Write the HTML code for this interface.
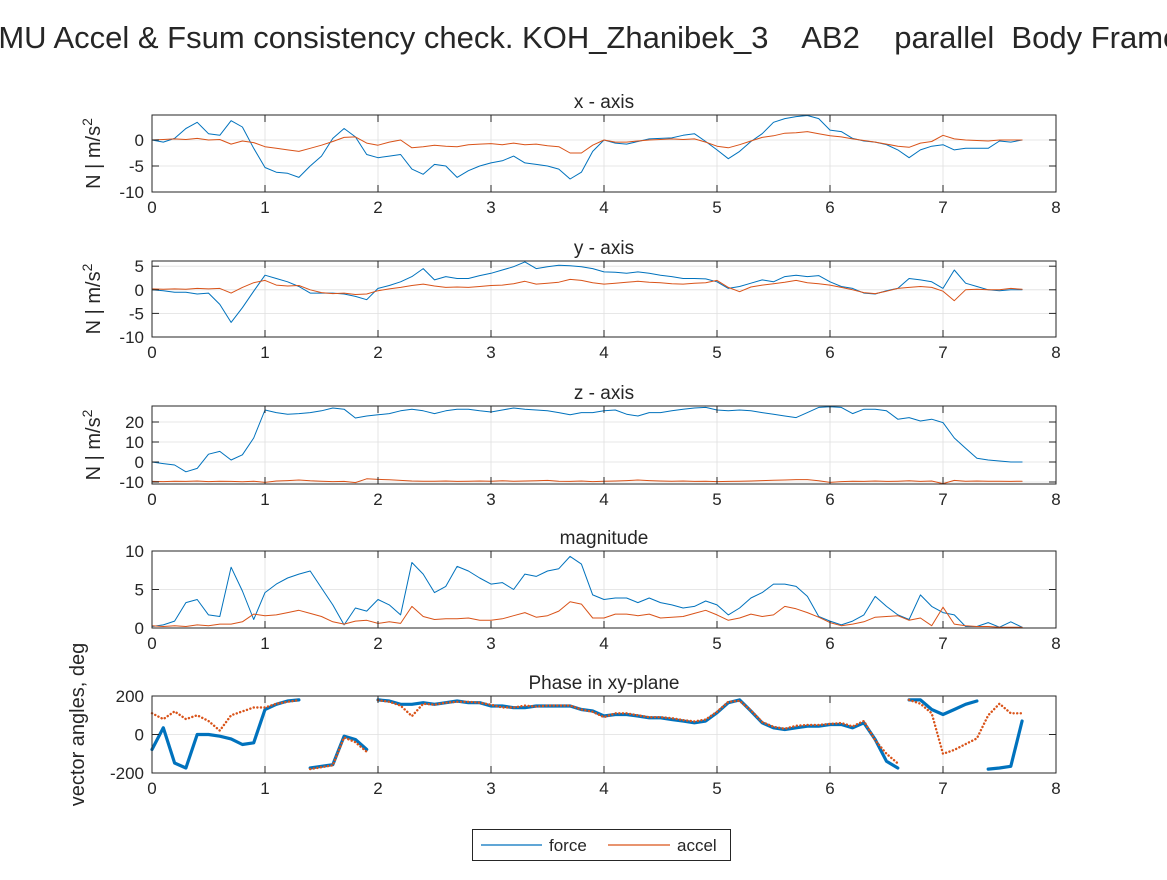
<!DOCTYPE html>
<html><head><meta charset="utf-8"><style>
html,body{margin:0;padding:0;background:#fff;overflow:hidden}
svg text{font-family:"Liberation Sans",Arial,sans-serif;fill:#262626}
</style></head><body>
<svg id="fig" width="1167" height="875" viewBox="0 0 1167 875" xmlns="http://www.w3.org/2000/svg">
<rect width="1167" height="875" fill="#fff"/>
<text x="585" y="48" font-size="31" text-anchor="middle" style="white-space:pre">IMU Accel &amp; Fsum consistency check. KOH_Zhanibek_3    AB2    parallel  Body Frame</text>
<g id="plots"></g>
<g>
<rect x="472.5" y="829.5" width="258" height="31" fill="#fff" stroke="#262626" stroke-width="1"/>
<line x1="481" y1="845" x2="542" y2="845" stroke="#0072BD" stroke-width="1.2"/>
<text x="549" y="851" font-size="17">force</text>
<line x1="608" y1="845" x2="670" y2="845" stroke="#D95319" stroke-width="1.2"/>
<text x="677" y="851" font-size="17">accel</text>
</g>
</svg>
<script>
const times = [0,0.1,0.2,0.3,0.4,0.5,0.6,0.7,0.8,0.9,1.0,1.1,1.2,1.3,1.4,1.5,1.6,1.7,1.8,1.9,2.0,2.1,2.2,2.3,2.4,2.5,2.6,2.7,2.8,2.9,3.0,3.1,3.2,3.3,3.4,3.5,3.6,3.7,3.8,3.9,4.0,4.1,4.2,4.3,4.4,4.5,4.6,4.7,4.8,4.9,5.0,5.1,5.2,5.3,5.4,5.5,5.6,5.7,5.8,5.9,6.0,6.1,6.2,6.3,6.4,6.5,6.6,6.7,6.8,6.9,7.0,7.1,7.2,7.3,7.4,7.5,7.6,7.7];
const xForce = [0,-0.4,0.3,2.2,3.4,1.2,0.9,3.7,2.5,-1.6,-5.3,-6.2,-6.4,-7.2,-5,-3.1,0.3,2.2,0.6,-2.8,-3.4,-3.1,-2.8,-5.6,-6.6,-4.7,-5,-7.2,-5.9,-5,-4.4,-4,-3.1,-4.4,-4.7,-5,-5.6,-7.5,-6.2,-2.2,0,-0.6,-0.8,-0.3,0.2,0.3,0.4,0.9,1.2,-0.3,-1.9,-3.6,-2.2,-0.3,1.2,3.4,4.1,4.5,4.7,4.1,1.9,1.6,0.3,-0.2,-0.4,-0.9,-1.9,-3.4,-1.9,-1.2,-0.9,-1.9,-1.6,-1.6,-1.6,-0.2,-0.4,0];
const xAccel = [0,0.1,0.2,0.1,0.3,0,0.1,-0.8,-0.2,-0.5,-1.3,-1.6,-1.9,-2.2,-1.6,-1.0,-0.3,0.5,0.6,-0.6,-1.0,-0.4,0,-1.5,-1.3,-1.0,-1.2,-1.3,-0.9,-0.8,-0.7,-0.9,-0.6,-0.9,-0.8,-1.1,-1.3,-2.5,-2.5,-1.0,0,-0.4,-0.4,-0.2,0,0.1,0.2,0.1,0.2,-0.4,-1.2,-1.5,-0.9,-0.2,0.5,0.8,1.3,1.4,1.6,1.2,0.8,0.6,0.2,-0.1,-0.4,-0.8,-1.2,-1.4,-0.6,-0.3,0.9,0.2,0,-0.1,-0.2,0,0,0];
const yForce = [0,-0.2,-0.5,-0.5,-0.9,-0.7,-3.1,-6.9,-3.8,-0.3,3.1,2.4,1.7,0.7,-0.7,-0.7,-0.7,-0.9,-1.4,-2.1,0.3,0.9,1.7,2.8,4.5,2.1,2.8,2.4,2.4,3,3.5,4.2,4.9,5.9,4.5,4.9,5.2,5.1,4.9,4.5,3.8,3.7,3.5,3.8,3.5,3.1,2.8,2.4,2.4,2.3,1.7,0.3,0.7,1.4,2.1,1.7,2.8,3.1,2.8,3,1.7,0.7,0.3,-0.7,-0.9,-0.2,0.3,2.4,2.1,1.7,0.3,4.2,1.4,0.7,0,-0.2,0,0];
const yAccel = [0.2,0.1,0.2,0.1,0.3,0.2,0.3,-0.7,0.5,1.5,2.0,1.0,0.8,0.9,0,-0.6,-0.8,-0.7,-1.0,-0.9,-0.2,0.2,0.5,0.9,1.2,0.8,0.5,0.6,0.5,0.7,0.9,1.0,1.3,1.8,1.2,1.4,1.6,2.2,2.0,1.5,1.2,1.4,1.6,1.8,1.6,1.5,1.3,1.2,1.4,1.5,2.0,0.5,-0.4,0.6,1.0,1.3,1.6,2.0,1.5,1.3,1.0,0.5,0,-0.6,-0.8,-0.3,0.3,0.5,0.7,0.5,-0.3,-2.3,0,0.1,0,0,0.3,0.1];
const zForce = [0,-0.8,-1.5,-4.9,-3.2,3.9,5.3,1,3.6,12,26,24.7,23.9,24.2,24.7,25.6,27,26.4,22,23,23.6,24.2,25.6,26.4,25.6,24.2,25.6,26.4,26.4,25.6,25,26,27,26.4,26,25.6,24.7,23.6,24.7,24.7,25.6,26,23.9,23,24.7,24.7,25.6,26.4,27,27.3,26,25.6,26,25.6,24.7,23.9,23,22.2,24.7,27.3,27.6,27.3,24.2,26.4,26.4,25.6,21.4,22.2,20.5,21.4,19.7,12,6.9,1.9,1,0.5,0,0];
const zAccel = [-9.7,-9.8,-9.6,-9.7,-9.5,-9.8,-9.6,-9.7,-9.9,-9.6,-10.2,-9.5,-9.3,-9.0,-9.4,-9.6,-9.8,-9.7,-10.3,-8.4,-8.7,-8.9,-9.2,-9.5,-9.6,-9.6,-9.5,-9.7,-9.6,-9.5,-9.6,-9.4,-9.6,-9.5,-9.4,-9.2,-9.6,-9.7,-9.5,-9.8,-9.6,-9.5,-9.3,-9.0,-9.3,-9.5,-9.6,-9.5,-9.7,-9.6,-9.8,-9.7,-9.6,-9.5,-9.3,-9.1,-9.0,-8.8,-8.8,-9.4,-10.2,-9.8,-9.6,-9.7,-9.5,-9.7,-9.6,-9.4,-9.7,-9.5,-10.8,-9.2,-9.6,-9.5,-9.6,-9.6,-9.7,-9.6];
const magForce = [0.2,0.4,0.9,3.3,3.7,1.7,1.5,7.9,4.8,1.1,4.6,5.7,6.5,7,7.4,5.2,3,0.4,2.6,2.2,3.7,3,1.7,8.5,7,4.6,5.4,8,7.4,6.5,5.7,5.9,5,7,6.7,7.4,7.7,9.3,8.3,4.3,3.7,3.9,3.9,3.3,3.9,3.3,3,2.6,2.8,3.5,3,1.7,2.6,3.9,4.6,5.7,5.7,5.4,4.1,1.5,0.9,0.4,0.9,1.7,4.1,2.8,1.7,1.1,4.3,2.8,2,1.7,0.2,0.2,0.7,0.1,0.8,0.1];
const magAccel = [0.3,0.2,0.3,0.2,0.4,0.3,0.5,0.5,0.8,1.8,1.6,1.7,2.0,2.3,1.9,1.5,0.8,0.5,0.9,1.0,0.6,0.8,0.6,2.8,1.5,1.1,1.2,1.2,1.3,1.0,1.0,1.2,1.6,2.0,1.4,1.6,2.2,3.4,3.1,1.3,1.3,1.8,1.8,1.6,1.8,1.3,1.4,1.5,1.9,2.3,1.7,1.0,1.3,1.8,1.5,1.7,2.8,2.5,2.0,1.4,0.7,0.3,0.5,0.8,1.4,1.5,1.6,1.0,1.3,0.3,2.7,0.5,0.3,0.2,0.2,0.1,0.1,0.1];
const phaseForce = [-78,35,-148,-174,0,0,-9,-23,-52,-43,130,157,174,180,-174,-165,-157,-9,-26,-78,180,174,157,157,165,157,165,174,165,165,148,148,139,139,148,148,148,148,130,122,96,104,104,96,87,87,78,70,61,70,113,165,180,122,61,35,26,35,43,43,52,52,35,61,-26,-139,-174,180,180,130,104,130,157,174,-180,-174,-165,70];
const phaseAccel = [110,80,120,80,100,70,20,100,120,140,140,160,170,178,-180,-170,-160,-15,-40,-90,178,170,150,95,160,155,165,170,170,165,155,140,140,150,145,150,150,150,130,118,90,110,110,100,90,90,85,75,68,78,118,170,175,125,65,40,30,45,50,50,55,60,42,70,-30,-100,-150,180,160,110,-100,-80,-50,-20,100,160,110,110];
const xTicks = [0,1,2,3,4,5,6,7,8];

const BLUE = '#0072BD', ORANGE = '#D95319';
const NS = 'http://www.w3.org/2000/svg';
const plots = document.getElementById('plots');
const L = 152, R = 1056, XMAX = 8;
function xs(t){ return L + (t / XMAX) * (R - L); }
function mk(tag, attrs, parent){ const e = document.createElementNS(NS, tag); for (const k in attrs) e.setAttribute(k, attrs[k]); parent.appendChild(e); return e; }

const panels = [
  {name:'x-axis', title:'x - axis', top:115, bot:192, ymin:-10, ymax:4.8, yt:[-10,-5,0], f:xForce, a:xAccel, ylab:'ms'},
  {name:'y-axis', title:'y - axis', top:261, bot:337, ymin:-10, ymax:6.1, yt:[-10,-5,0,5], f:yForce, a:yAccel, ylab:'ms'},
  {name:'z-axis', title:'z - axis', top:406, bot:484, ymin:-11, ymax:28, yt:[-10,0,10,20], f:zForce, a:zAccel, ylab:'ms'},
  {name:'magnitude', title:'magnitude', top:551, bot:628, ymin:0, ymax:10, yt:[0,5,10], f:magForce, a:magAccel, ylab:''},
  {name:'phase', title:'Phase in xy-plane', top:696, bot:773, ymin:-200, ymax:200, yt:[-200,0,200], f:phaseForce, a:phaseAccel, ylab:'deg', phase:true}
];

panels.forEach(p => {
  const g = mk('g', {}, plots);
  
  
  const ys = v => p.bot - (v - p.ymin) / (p.ymax - p.ymin) * (p.bot - p.top);
  mk('rect', {x:L, y:p.top, width:R-L, height:p.bot-p.top, fill:'#fff'}, g);
  xTicks.forEach(t => {
    if (t > 0 && t < XMAX) {
      const gl = mk('line', {x1:xs(t), x2:xs(t), y1:p.top, y2:p.bot, stroke:'#dfdfdf', 'stroke-width':0.8}, g);
      
      
    }
  });
  p.yt.forEach(v => {
    const y = ys(v);
    if (y > p.top + 1 && y < p.bot - 1) {
      const gl = mk('line', {x1:L, x2:R, y1:y, y2:y, stroke:'#dfdfdf', 'stroke-width':0.8}, g);
      
      
    }
  });
  function series(vals, color, cls){
    let segs = [], cur = [];
    vals.forEach((v, i) => {
      if (p.phase && i > 0 && Math.abs(v - vals[i-1]) > 250) { if (cur.length) segs.push(cur); cur = []; }
      cur.push([xs(times[i]), ys(Math.max(p.ymin, Math.min(p.ymax, v)))]);
    });
    if (cur.length) segs.push(cur);
    segs.forEach(s => {
      let d;
      if (s.length === 1) d = 'M' + s[0][0] + ',' + s[0][1] + 'l0.1,0';
      else d = s.map((pt, j) => (j ? 'L' : 'M') + pt[0].toFixed(1) + ',' + pt[1].toFixed(1)).join('');
      const attrs = {d:d, fill:'none', stroke:color, 'stroke-linejoin':'round', 'stroke-linecap':'round'};
      if (p.phase) {
        if (cls === 'force') attrs['stroke-width'] = 3.2;
        else { attrs['stroke-width'] = 2.4; attrs['stroke-dasharray'] = '0.1 3.5'; }
      } else attrs['stroke-width'] = 1;
      const path = mk('path', attrs, g);
      
      
    });
  }
  series(p.f, BLUE, 'force');
  series(p.a, ORANGE, 'accel');
  const fr = mk('rect', {x:L, y:p.top, width:R-L, height:p.bot-p.top, fill:'none', stroke:'#262626', 'stroke-width':1}, g);
  
  
  xTicks.forEach(t => {
    const x = xs(t);
    mk('line', {x1:x, x2:x, y1:p.bot, y2:p.bot-7, stroke:'#262626', 'stroke-width':1}, g);
    mk('line', {x1:x, x2:x, y1:p.top, y2:p.top+7, stroke:'#262626', 'stroke-width':1}, g);
    const tx = mk('text', {x:x, y:p.bot+21, 'font-size':17, 'text-anchor':'middle'}, g);
    tx.textContent = String(t);
    
    
  });
  p.yt.forEach(v => {
    const y = ys(v);
    mk('line', {x1:L, x2:L+7, y1:y, y2:y, stroke:'#262626', 'stroke-width':1}, g);
    mk('line', {x1:R, x2:R-7, y1:y, y2:y, stroke:'#262626', 'stroke-width':1}, g);
    const ty = mk('text', {x:L-8, y:y+6, 'font-size':17, 'text-anchor':'end'}, g);
    ty.textContent = String(v);
    
    
  });
  const tt = mk('text', {x:(L+R)/2, y:p.top-7, 'font-size':19, 'text-anchor':'middle'}, g);
  tt.textContent = p.title;
  
  
  if (p.ylab) {
    const cy = (p.top + p.bot) / 2;
    const yl = mk('text', {x:0, y:0, 'font-size':20, 'text-anchor':'middle', transform:'translate(100,' + cy + ') rotate(-90)'}, g);
    
    
    if (p.ylab === 'ms') {
      yl.textContent = 'N | m/s';
      const sup = document.createElementNS(NS, 'tspan');
      sup.setAttribute('dy', '-8');
      sup.setAttribute('font-size', '14');
      sup.textContent = '2';
      yl.appendChild(sup);
    } else {
      yl.setAttribute('transform', 'translate(84,' + (cy - 10) + ') rotate(-90)');
      yl.textContent = 'vector angles, deg';
    }
  }
});
</script>
</body></html>
